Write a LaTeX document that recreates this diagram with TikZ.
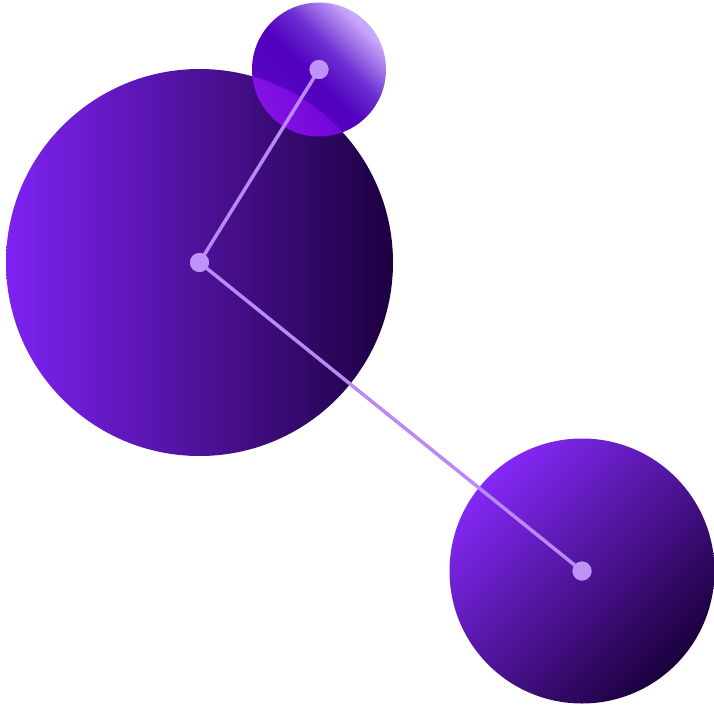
\documentclass[tikz,border=0pt]{standalone}
\definecolor{bigL}{HTML}{7E22F2}
\definecolor{bigR}{HTML}{1C0040}
\definecolor{brL}{HTML}{8428F6}
\definecolor{brR}{HTML}{1A003C}
\definecolor{smA}{HTML}{5C06CA}
\definecolor{smB}{HTML}{5200BC}
\definecolor{smC}{HTML}{6C30D2}
\definecolor{smD}{HTML}{C8A8FA}
\definecolor{dotc}{HTML}{BF92F8}
\definecolor{linec}{HTML}{B98AF5}
\pgfdeclareverticalshading{smallsh}{100bp}{color(0bp)=(smA); color(25bp)=(smA); color(47bp)=(smB); color(58bp)=(smC); color(73bp)=(smD); color(100bp)=(smD)}
\tikzset{
  dotnode/.style={circle, fill=dotc, inner sep=0pt, minimum size=19pt},
  link/.style={draw=linec, line width=3.5pt},
}
\begin{document}
\begin{tikzpicture}[x=1pt,y=-1pt]
\useasboundingbox (0,0) rectangle (714,706);
\coordinate (cbig) at (199.5,262.5);
\coordinate (csm) at (319,69.5);
\coordinate (cbr) at (582,571);
\shade[left color=bigL, right color=bigR] (cbig) circle[radius=193.5];
\shade[left color=brL, right color=brR, shading angle=45] (cbr) circle[radius=132.5];
\begin{scope}[blend mode=screen]
\shade[shading=smallsh, shading angle=-45] (csm) circle[radius=67];
\end{scope}
\node[dotnode] (dsm) at (csm) {};
\node[dotnode] (dbig) at (cbig) {};
\node[dotnode] (dbr) at (cbr) {};
\draw[link] (dsm.center) -- (dbig.center) -- (dbr.center);
\node[dotnode] at (csm) {};
\node[dotnode] at (cbig) {};
\node[dotnode] at (cbr) {};
\end{tikzpicture}
\end{document}
